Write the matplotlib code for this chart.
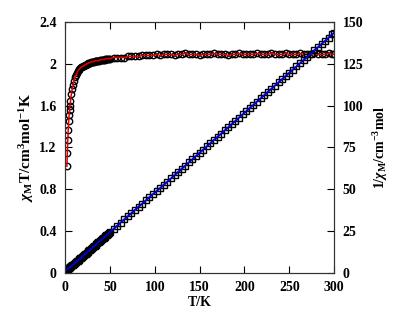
import matplotlib
matplotlib.use("Agg")
import matplotlib.pyplot as plt

plt.rcParams['font.family'] = ['Liberation Serif', 'DejaVu Serif']
plt.rcParams['mathtext.fontset'] = 'custom'
plt.rcParams['mathtext.rm'] = 'Liberation Serif:bold'
plt.rcParams['mathtext.it'] = 'Liberation Serif:italic:bold'
plt.rcParams['mathtext.bf'] = 'Liberation Serif:bold'

# temperature (K): dense below 50 K, sparser above
T_low = [2, 2.5, 3, 3.5, 4, 4.5, 5, 5.5, 6, 7, 8, 9, 10, 11, 12, 13, 14, 15,
         16, 17, 18, 19, 20, 21, 22, 23, 24, 25, 26, 27, 28, 29, 30, 31, 32, 33,
         34, 35, 36, 37, 38, 39, 40, 41, 42, 43, 44, 45, 46, 47, 48, 49, 50]
T_high = [54, 58, 62, 66, 70, 74, 78, 82, 86, 90, 94, 98, 102, 106, 110, 114,
          118, 122, 126, 130, 134, 138, 142, 146, 150, 154, 158, 162, 166, 170,
          174, 178, 182, 186, 190, 194, 198, 202, 206, 210, 214, 218, 222, 226,
          230, 234, 238, 242, 246, 250, 254, 258, 262, 266, 270, 274, 278, 282,
          286, 290, 294, 298, 300]

# chi_M T (cm3 mol-1 K)
chiT_low = [1.02, 1.15, 1.27, 1.37, 1.45, 1.51, 1.56, 1.60, 1.64, 1.71, 1.76,
            1.80, 1.84, 1.87, 1.89, 1.91, 1.93, 1.94, 1.95, 1.96, 1.97, 1.97,
            1.98, 1.98, 1.99, 1.99, 2.00, 2.00, 2.01, 2.01, 2.01, 2.02, 2.02,
            2.02, 2.02, 2.03, 2.03, 2.03, 2.03, 2.03, 2.03, 2.04, 2.04, 2.04,
            2.04, 2.04, 2.04, 2.05, 2.05, 2.05, 2.05, 2.05, 2.05]
chiT_high = [2.06, 2.06, 2.06, 2.06, 2.07, 2.07, 2.07, 2.07, 2.08, 2.08, 2.08,
             2.08, 2.09, 2.08, 2.09, 2.09, 2.09, 2.08, 2.09, 2.09, 2.10, 2.09,
             2.09, 2.09, 2.08, 2.09, 2.09, 2.09, 2.10, 2.09, 2.09, 2.09, 2.08,
             2.09, 2.09, 2.10, 2.09, 2.09, 2.09, 2.09, 2.10, 2.09, 2.09, 2.09,
             2.10, 2.09, 2.09, 2.09, 2.10, 2.09, 2.09, 2.09, 2.10, 2.09, 2.09,
             2.09, 2.10, 2.09, 2.09, 2.09, 2.10, 2.09, 2.09]

# 1/chi_M (cm-3 mol)
inv_low = [1.96, 2.17, 2.36, 2.55, 2.76, 2.98, 3.21, 3.44, 3.66, 4.09, 4.55,
           5.00, 5.43, 5.88, 6.35, 6.81, 7.25, 7.73, 8.21, 8.67, 9.14, 9.64,
           10.10, 10.61, 11.06, 11.56, 12.00, 12.50, 12.94, 13.43, 13.93, 14.36,
           14.85, 15.35, 15.84, 16.26, 16.75, 17.24, 17.73, 18.23, 18.72, 19.12,
           19.61, 20.10, 20.59, 21.08, 21.57, 21.95, 22.44, 22.93, 23.41, 23.90,
           24.39]
inv_high = [26.21, 28.16, 30.10, 32.04, 33.82, 35.75, 37.68, 39.61, 41.35, 43.27,
            45.19, 47.12, 48.80, 50.72, 52.63, 54.55, 56.46, 58.37, 60.29, 62.20,
            64.11, 66.03, 67.94, 69.86, 71.77, 73.68, 75.60, 77.51, 79.43, 81.34,
            83.25, 85.17, 87.08, 89.00, 90.91, 92.82, 94.74, 96.65, 98.56, 100.48,
            102.39, 104.31, 106.22, 108.13, 110.05, 111.96, 113.88, 115.79,
            117.70, 119.62, 121.53, 123.44, 125.36, 127.27, 129.19, 131.10,
            133.01, 134.93, 136.84, 138.76, 140.67, 142.58, 143.54]

T = T_low + T_high
chiT = chiT_low + chiT_high
inv_chi = inv_low + inv_high

fig = plt.figure(figsize=(4.12, 3.14), dpi=100)
ax = fig.add_axes([0.158, 0.131, 0.653, 0.799])
ax2 = ax.twinx()

ax.plot(T, chiT, 'o', ms=4.6, mfc='none', mec='black', mew=1.0, zorder=2)
ax.plot(T, chiT, '-', color='#e00000', lw=1.1, zorder=3)

ax2.plot(T, inv_chi, 's', ms=4.6, mfc='none', mec='black', mew=1.0, zorder=2)
ax2.plot(T, inv_chi, '-', color='#0000d0', lw=1.4, zorder=3)

ax.set_xlim(0, 300)
ax.set_ylim(0, 2.4)
ax2.set_ylim(0, 150)
ax.set_xticks([0, 50, 100, 150, 200, 250, 300])
ax.set_yticks([0, 0.4, 0.8, 1.2, 1.6, 2.0, 2.4])
ax.set_yticklabels(['0', '0.4', '0.8', '1.2', '1.6', '2', '2.4'])
ax2.set_yticks([0, 25, 50, 75, 100, 125, 150])

ax.tick_params(axis='x', direction='in', top=True, length=5, width=0.8, labelsize=10, pad=6)
ax.tick_params(axis='y', direction='in', length=5, width=0.8, labelsize=10, pad=6)
ax2.tick_params(axis='y', direction='in', length=5, width=0.8, labelsize=10, pad=6)
for lab in ax.get_xticklabels() + ax.get_yticklabels() + ax2.get_yticklabels():
    lab.set_fontweight('bold')
for a in (ax, ax2):
    for s in a.spines.values():
        s.set_linewidth(0.8)
        s.set_color('#333333')

ax.set_xlabel('T/K', fontsize=10, fontweight='bold', labelpad=1)
ax.set_ylabel(r'$\chi_{\mathbf{M}}\mathbf{T/cm^{3}mol^{-1}K}$', fontsize=11, labelpad=2)
ax2.set_ylabel(r'$\mathrm{1/}\chi_{\mathrm{M}}\mathrm{/cm^{-3}mol}$', fontsize=10,
               rotation=90, labelpad=6)

fig.savefig('out.png', dpi=100)
